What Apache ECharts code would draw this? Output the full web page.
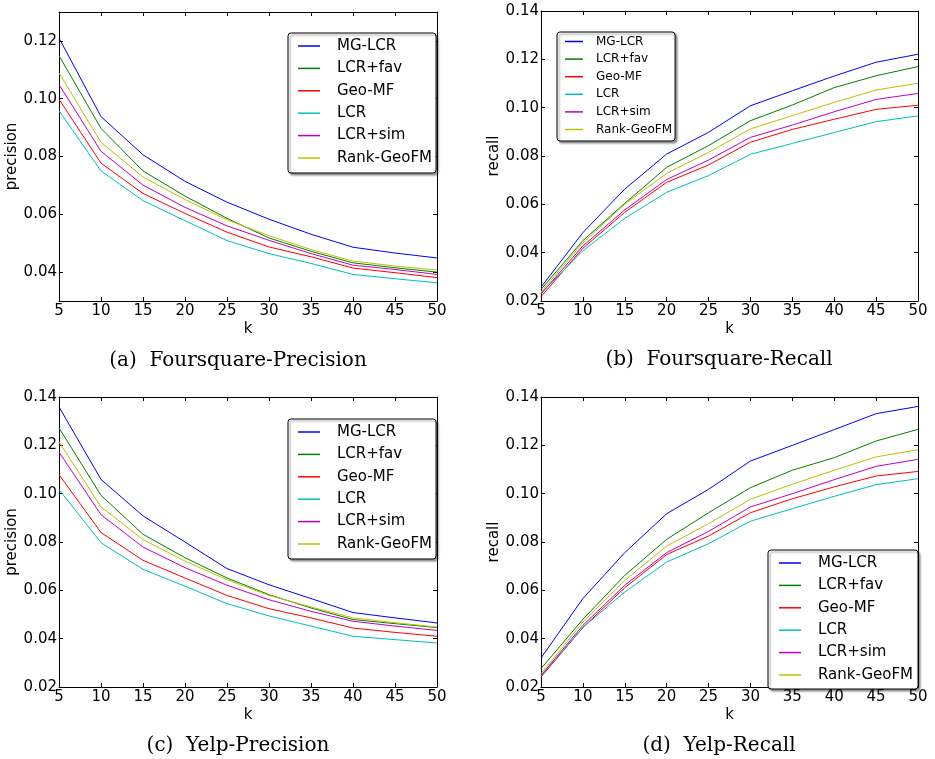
<!DOCTYPE html>
<html>
<head>
<meta charset="utf-8">
<script src="https://cdn.jsdelivr.net/npm/echarts@6/dist/echarts.min.js"></script>
<style>
html, body { margin: 0; padding: 0; background: #fff; }
#chart { width: 935px; height: 759px; }
</style>
</head>
<body>
<div id="chart"></div>
<script>
// x axis: top-k
const kValues = [5, 10, 15, 20, 25, 30, 35, 40, 45, 50];

// tick labels
const precFsTicks = [0.04, 0.06, 0.08, 0.10, 0.12];
const commonTicks = [0.02, 0.04, 0.06, 0.08, 0.10, 0.12, 0.14];

const methodNames = ['MG-LCR', 'LCR+fav', 'Geo-MF', 'LCR', 'LCR+sim', 'Rank-GeoFM'];

// (a) Foursquare-Precision
const fsPrecMG    = [0.1210, 0.0938, 0.0806, 0.0714, 0.0642, 0.0583, 0.0531, 0.0486, 0.0466, 0.0449];
const fsPrecFav   = [0.1149, 0.0897, 0.0750, 0.0663, 0.0586, 0.0518, 0.0472, 0.0432, 0.0415, 0.0400];
const fsPrecGeoMF = [0.0998, 0.0777, 0.0672, 0.0603, 0.0538, 0.0487, 0.0453, 0.0414, 0.0398, 0.0381];
const fsPrecLCR   = [0.0958, 0.0750, 0.0647, 0.0578, 0.0509, 0.0464, 0.0430, 0.0392, 0.0377, 0.0363];
const fsPrecSim   = [0.1049, 0.0818, 0.0701, 0.0624, 0.0560, 0.0510, 0.0464, 0.0424, 0.0409, 0.0392];
const fsPrecRank  = [0.1089, 0.0849, 0.0729, 0.0651, 0.0581, 0.0526, 0.0478, 0.0438, 0.0421, 0.0407];

// (b) Foursquare-Recall
const fsRecMG    = [0.0257, 0.0483, 0.0663, 0.0808, 0.0898, 0.1008, 0.1070, 0.1131, 0.1188, 0.1221];
const fsRecFav   = [0.0248, 0.0450, 0.0604, 0.0753, 0.0843, 0.0946, 0.1011, 0.1083, 0.1132, 0.1170];
const fsRecGeoMF = [0.0218, 0.0418, 0.0567, 0.0691, 0.0763, 0.0857, 0.0910, 0.0952, 0.0993, 0.1010];
const fsRecLCR   = [0.0232, 0.0408, 0.0542, 0.0650, 0.0719, 0.0807, 0.0852, 0.0897, 0.0942, 0.0966];
const fsRecSim   = [0.0229, 0.0428, 0.0577, 0.0703, 0.0783, 0.0877, 0.0928, 0.0983, 0.1034, 0.1059];
const fsRecRank  = [0.0237, 0.0441, 0.0601, 0.0728, 0.0815, 0.0912, 0.0967, 0.1022, 0.1073, 0.1101];

// (c) Yelp-Precision
const yelpPrecMG    = [0.1359, 0.1059, 0.0908, 0.0800, 0.0690, 0.0623, 0.0566, 0.0508, 0.0486, 0.0465];
const yelpPrecFav   = [0.1272, 0.0993, 0.0832, 0.0735, 0.0651, 0.0582, 0.0527, 0.0479, 0.0462, 0.0446];
const yelpPrecGeoMF = [0.1079, 0.0839, 0.0724, 0.0651, 0.0579, 0.0524, 0.0486, 0.0444, 0.0426, 0.0410];
const yelpPrecLCR   = [0.1017, 0.0797, 0.0687, 0.0617, 0.0545, 0.0494, 0.0452, 0.0410, 0.0396, 0.0382];
const yelpPrecSim   = [0.1172, 0.0913, 0.0779, 0.0694, 0.0621, 0.0561, 0.0513, 0.0472, 0.0452, 0.0434];
const yelpPrecRank  = [0.1214, 0.0945, 0.0810, 0.0721, 0.0644, 0.0579, 0.0531, 0.0486, 0.0466, 0.0448];

// (d) Yelp-Recall
const yelpRecMG    = [0.0320, 0.0566, 0.0756, 0.0917, 0.1018, 0.1135, 0.1200, 0.1265, 0.1331, 0.1361];
const yelpRecFav   = [0.0276, 0.0480, 0.0662, 0.0811, 0.0921, 0.1025, 0.1097, 0.1149, 0.1218, 0.1266];
const yelpRecGeoMF = [0.0241, 0.0446, 0.0611, 0.0748, 0.0825, 0.0921, 0.0979, 0.1028, 0.1073, 0.1092];
const yelpRecLCR   = [0.0246, 0.0446, 0.0593, 0.0717, 0.0793, 0.0886, 0.0938, 0.0989, 0.1037, 0.1062];
const yelpRecSim   = [0.0248, 0.0455, 0.0621, 0.0756, 0.0844, 0.0945, 0.1000, 0.1058, 0.1113, 0.1142];
const yelpRecRank  = [0.0255, 0.0469, 0.0641, 0.0783, 0.0876, 0.0977, 0.1039, 0.1097, 0.1152, 0.1182];

// matplotlib classic colours b g r c m y
const lineColors = ['#0000ff', '#008000', '#ff0000', '#00bfbf', '#bf00bf', '#bfbf00'];
const sansFont = 'DejaVu Sans';

// one entry per subplot
const panels = [
  { caption: '(a)  Foursquare-Precision', yName: 'precision', yMin: 0.03, yMax: 0.13, ticks: precFsTicks,
    lines: [fsPrecMG, fsPrecFav, fsPrecGeoMF, fsPrecLCR, fsPrecSim, fsPrecRank],
    grid: { left: 59, top: 12, width: 378, height: 289 }, capX: 238, capY: 361,
    legend: { left: 288, top: 33, padding: [5, 4, 7, 10], itemWidth: 22, itemGap: 6.4,
      fontSize: 15, lineHeight: 16, textPad: 12 } },
  { caption: '(b)  Foursquare-Recall', yName: 'recall', yMin: 0.02, yMax: 0.14, ticks: commonTicks,
    lines: [fsRecMG, fsRecFav, fsRecGeoMF, fsRecLCR, fsRecSim, fsRecRank],
    grid: { left: 541, top: 11, width: 377, height: 290 }, capX: 719, capY: 360,
    legend: { left: 557, top: 32, padding: [3, 3, 5, 8], itemWidth: 18, itemGap: 4.6,
      fontSize: 12, lineHeight: 13, textPad: 8 } },
  { caption: '(c)  Yelp-Precision', yName: 'precision', yMin: 0.02, yMax: 0.14, ticks: commonTicks,
    lines: [yelpPrecMG, yelpPrecFav, yelpPrecGeoMF, yelpPrecLCR, yelpPrecSim, yelpPrecRank],
    grid: { left: 59, top: 397, width: 378, height: 290 }, capX: 238, capY: 746,
    legend: { left: 288, top: 419, padding: [5, 4, 7, 10], itemWidth: 22, itemGap: 6.4,
      fontSize: 15, lineHeight: 16, textPad: 12 } },
  { caption: '(d)  Yelp-Recall', yName: 'recall', yMin: 0.02, yMax: 0.14, ticks: commonTicks,
    lines: [yelpRecMG, yelpRecFav, yelpRecGeoMF, yelpRecLCR, yelpRecSim, yelpRecRank],
    grid: { left: 541, top: 397, width: 377, height: 290 }, capX: 719, capY: 746,
    legend: { left: 768, top: 550, padding: [5, 5, 6, 11], itemWidth: 22, itemGap: 6.4,
      fontSize: 15, lineHeight: 16, textPad: 12 } }
];

const grids = [], xAxes = [], yAxes = [], series = [], legends = [], captions = [];

panels.forEach((p, i) => {
  grids.push(Object.assign({ show: false }, p.grid));

  const axisLine = { show: true, onZero: false, lineStyle: { color: '#000', width: 1 } };
  const tick = { show: true, inside: true, length: 4, lineStyle: { color: '#000', width: 1 } };

  // bottom x with labels, top x only for the ticks
  xAxes.push({
    type: 'value', gridIndex: i, position: 'bottom', min: 5, max: 50, interval: 5,
    name: 'k', nameLocation: 'middle', nameGap: 21,
    nameTextStyle: { color: '#000', fontFamily: sansFont, fontSize: 15 },
    axisLine: axisLine, axisTick: tick,
    axisLabel: { color: '#000', fontFamily: sansFont, fontSize: 15, margin: 3, showMinLabel: true, showMaxLabel: true },
    splitLine: { show: false }
  });
  xAxes.push({
    type: 'value', gridIndex: i, position: 'top', min: 5, max: 50, interval: 5,
    axisLine: axisLine, axisTick: tick, axisLabel: { show: false }, splitLine: { show: false }
  });

  yAxes.push({
    type: 'value', gridIndex: i, position: 'left', min: p.yMin, max: p.yMax,
    name: p.yName, nameLocation: 'middle', nameGap: 39,
    nameTextStyle: { color: '#000', fontFamily: sansFont, fontSize: 15 },
    axisLine: axisLine,
    axisTick: Object.assign({ customValues: p.ticks }, tick),
    axisLabel: { color: '#000', fontFamily: sansFont, fontSize: 15, margin: 2,
      customValues: p.ticks, formatter: v => v.toFixed(2) },
    splitLine: { show: false }
  });
  yAxes.push({
    type: 'value', gridIndex: i, position: 'right', min: p.yMin, max: p.yMax,
    axisLine: axisLine,
    axisTick: Object.assign({ customValues: p.ticks }, tick),
    axisLabel: { show: false }, splitLine: { show: false }
  });

  p.lines.forEach((vals, j) => {
    series.push({
      name: methodNames[j], type: 'line', xAxisIndex: 2 * i, yAxisIndex: 2 * i,
      data: kValues.map((k, n) => [k, vals[n]]),
      symbol: 'none', color: lineColors[j],
      lineStyle: { width: 1, color: lineColors[j] },
      emphasis: { disabled: true }
    });
  });

  // legend keys are plain short lines, like matplotlib
  const lg = p.legend;
  legends.push({
    orient: 'vertical', left: lg.left, top: lg.top, padding: lg.padding,
    icon: 'rect', itemWidth: lg.itemWidth, itemHeight: 1.5, itemGap: lg.itemGap,
    data: methodNames,
    backgroundColor: '#fff', borderColor: '#000', borderWidth: 1, borderRadius: 3,
    shadowColor: 'rgba(0,0,0,0.4)', shadowBlur: 2, shadowOffsetX: 2, shadowOffsetY: 2,
    textStyle: { color: '#000', fontFamily: sansFont, fontSize: lg.fontSize, lineHeight: lg.lineHeight,
      padding: [0, 0, 0, lg.textPad] }
  });

  captions.push({
    type: 'text', x: p.capX, y: p.capY, silent: true,
    style: { text: p.caption, align: 'center', verticalAlign: 'middle',
      font: '20px "DejaVu Serif"', fill: '#000' }
  });
});

const chart = echarts.init(document.getElementById('chart'), null, { renderer: 'canvas' });
chart.setOption({
  animation: false,
  backgroundColor: '#fff',
  grid: grids,
  xAxis: xAxes,
  yAxis: yAxes,
  legend: legends,
  series: series,
  graphic: captions
});
</script>
</body>
</html>
